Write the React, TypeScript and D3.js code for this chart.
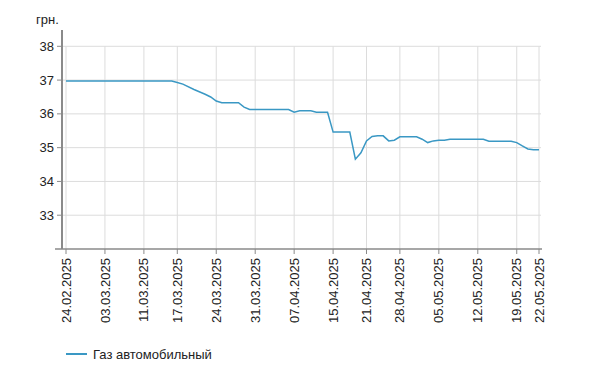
import React from 'react';
import * as d3 from 'd3';

// point index -> price, grn (vertices)
const pointIdx = [0, 19, 20, 21, 23, 25, 26, 27, 28, 31, 32, 33, 40, 41, 42, 44, 45, 47, 48, 51, 52, 53, 54, 55, 56, 57, 58, 59, 60, 63, 64, 65, 66, 67, 68, 69, 75, 76, 80, 81, 82, 83, 84, 85];
const prices = [36.97, 36.97, 36.93, 36.88, 36.72, 36.58, 36.5, 36.38, 36.33, 36.33, 36.2, 36.13, 36.13, 36.05, 36.09, 36.09, 36.05, 36.05, 35.46, 35.46, 34.66, 34.85, 35.2, 35.33, 35.35, 35.35, 35.2, 35.22, 35.32, 35.32, 35.25, 35.15, 35.2, 35.22, 35.22, 35.25, 35.25, 35.19, 35.19, 35.15, 35.05, 34.96, 34.94, 34.94];

const tickLabels = ['24.02.2025', '03.03.2025', '11.03.2025', '17.03.2025', '24.03.2025', '31.03.2025', '07.04.2025', '15.04.2025', '21.04.2025', '28.04.2025', '05.05.2025', '12.05.2025', '19.05.2025', '22.05.2025'];
const tickIdx = [0, 7, 14, 20, 27, 34, 41, 48, 54, 60, 67, 74, 81, 85];
const yTicks = [33, 34, 35, 36, 37, 38];
const seriesName = 'Газ автомобильный';

const font = 'Liberation Sans, Arial, sans-serif';

export default function App() {
  const x = d3.scaleLinear().domain([0, 85]).range([66, 539]);
  const y = d3.scaleLinear().domain([32, 38]).range([249, 46.3]);
  const data = pointIdx.map((d, i) => ({ i: d, v: prices[i] }));
  const line = d3.line<{ i: number; v: number }>().x(d => x(d.i)).y(d => y(d.v));

  const grid = '#dcdcdc';
  const axis = '#8a8a8a';

  return (
    <svg width={596} height={387} style={{ position: 'absolute', left: 0, top: 0, background: '#fff' }} fontFamily={font}>
      <text x={36} y={24} fontSize={13} fill="#222">грн.</text>
      {yTicks.map(t => (
        <g key={t}>
          <line x1={62} x2={541} y1={y(t)} y2={y(t)} stroke={grid} />
          <line x1={57} x2={62} y1={y(t)} y2={y(t)} stroke={axis} />
          <text x={54} y={y(t)} dy="0.35em" textAnchor="end" fontSize={13} fill="#222">{t}</text>
        </g>
      ))}
      {tickIdx.map((t, i) => (
        <g key={i}>
          <line x1={x(t)} x2={x(t)} y1={y(38)} y2={249} stroke={grid} />
          <line x1={x(t)} x2={x(t)} y1={249} y2={254} stroke={axis} />
          <text transform={`translate(${x(t)},258) rotate(-90)`} dy="0.35em" textAnchor="end" fontSize={13} fill="#222">{tickLabels[i]}</text>
        </g>
      ))}
      <line x1={62} x2={62} y1={30} y2={249} stroke={axis} strokeWidth={2} />
      <line x1={55} x2={542} y1={249} y2={249} stroke={axis} strokeWidth={1.5} />
      <path d={line(data) ?? ''} fill="none" stroke="#3a98c4" strokeWidth={1.5} />
      <line x1={66} x2={87} y1={354} y2={354} stroke="#3a98c4" strokeWidth={2} />
      <text x={93} y={354} dy="0.35em" fontSize={13} fill="#222">{seriesName}</text>
    </svg>
  );
}
